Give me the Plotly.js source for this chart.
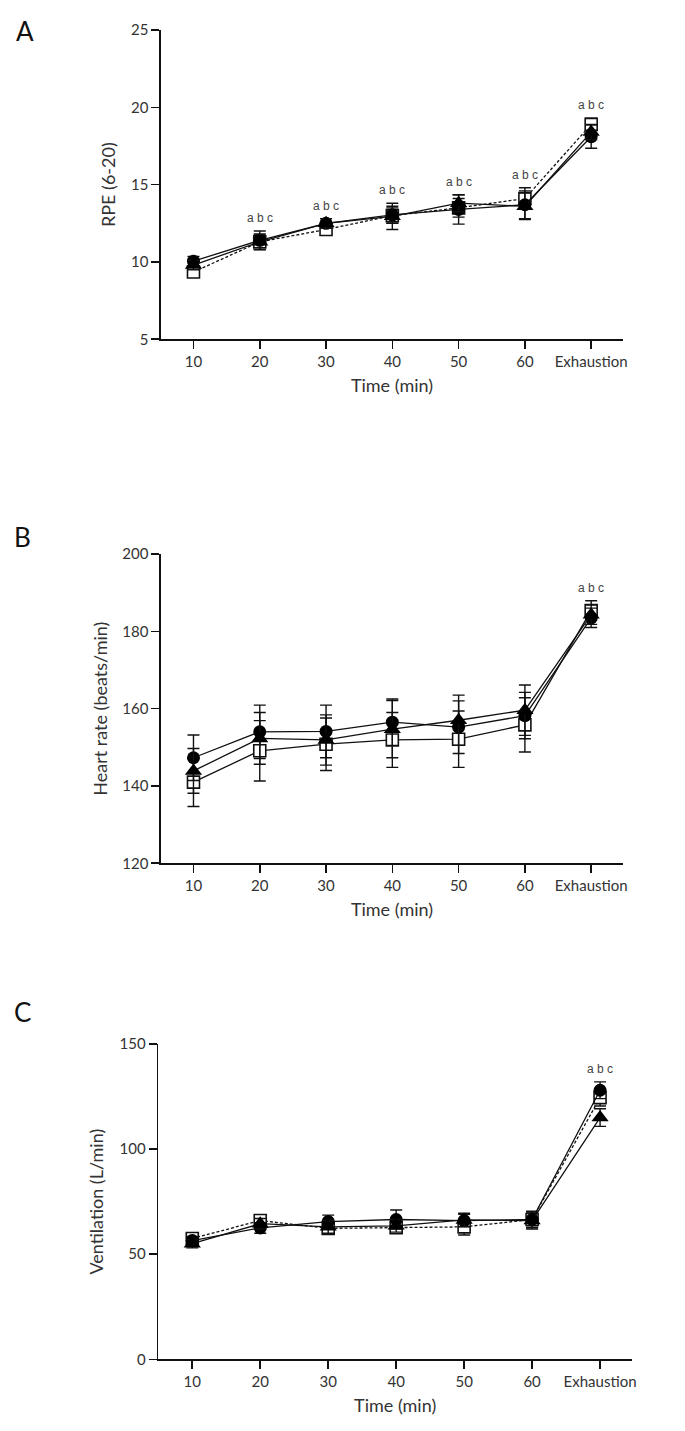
<!DOCTYPE html>
<html>
<head>
<meta charset="utf-8">
<script src="https://cdn.plot.ly/plotly-3.0.1.min.js"></script>
<style>
html,body{margin:0;padding:0;background:#fff;}
#chart{width:685px;height:1431px;}
</style>
</head>
<body>
<div id="chart"></div>
<script>
// ---------- DATA ----------
const timeLabels = ['10', '20', '30', '40', '50', '60', 'Exhaustion'];

// Panel A: RPE (6-20)
const rpeSquare      = [9.35, 11.3, 12.1, 13.0, 13.5, 14.1, 18.9];
const rpeSquareErr   = [0.3, 0.5, 0.35, 0.5, 0.6, 0.7, 0.4];
const rpeCircle      = [10.05, 11.4, 12.5, 13.05, 13.4, 13.7, 18.1];
const rpeCircleErr   = [0.3, 0.6, 0.3, 0.55, 0.95, 0.9, 0.75];
const rpeTriangle    = [9.8, 11.3, 12.5, 12.95, 13.8, 13.6, 18.4];
const rpeTriangleErr = [0.3, 0.5, 0.3, 0.85, 0.55, 0.85, 0.5];
const rpeSig = ['20', '30', '40', '50', '60', 'Exhaustion'];

// Panel B: Heart rate (beats/min)
const hrSquare      = [141.0, 149.1, 150.8, 151.9, 152.1, 155.8, 185.4];
const hrSquareErr   = [6.3, 7.8, 6.8, 7.1, 7.3, 7.0, 2.5];
const hrCircle      = [147.3, 154.0, 154.1, 156.5, 155.2, 158.2, 183.5];
const hrCircleErr   = [5.9, 6.9, 6.8, 6.0, 6.8, 6.0, 2.5];
const hrTriangle    = [143.9, 152.3, 151.9, 154.7, 157.0, 159.6, 184.3];
const hrTriangleErr = [5.8, 6.7, 6.5, 7.4, 6.5, 6.5, 2.5];
const hrSig = ['Exhaustion'];

// Panel C: Ventilation (L/min)
const veSquare      = [57.5, 66.0, 62.3, 62.6, 63.0, 66.5, 124.5];
const veSquareErr   = [2.0, 2.5, 2.5, 2.5, 3.9, 4.0, 4.0];
const veCircle      = [56.5, 62.5, 65.5, 66.5, 66.0, 66.5, 128.0];
const veCircleErr   = [2.0, 2.5, 3.1, 4.5, 3.0, 3.7, 4.0];
const veTriangle    = [55.0, 64.5, 63.0, 63.5, 66.3, 66.0, 115.0];
const veTriangleErr = [2.0, 2.5, 3.0, 3.0, 3.2, 4.0, 4.2];
const veSig = ['Exhaustion'];

// ---------- LAYOUT HELPERS ----------
const W = 685, H = 1431;
const fx = p => p / W;
const fy = p => 1 - p / H;
const INK = '#111111';
const TXT = '#333333';
const FONT = 'Lato, "Open Sans", sans-serif';

const panels = [
  {
    key: '', letter: 'A', letterPos: [25, 31],
    x: [161, 623], y: [30, 339.3], yrange: [5, 25], ytick: [5, 10, 15, 20, 25],
    xr: [-0.49, 6.48],
    ytitle: 'RPE (6-20)', ystandoff: 10,
    sq: rpeSquare, sqE: rpeSquareErr, ci: rpeCircle, ciE: rpeCircleErr, tr: rpeTriangle, trE: rpeTriangleErr,
    sig: rpeSig, sqDash: '3px,2px'
  },
  {
    key: '2', letter: 'B', letterPos: [22, 537],
    x: [161, 623], y: [554, 863.3], yrange: [120, 200], ytick: [120, 140, 160, 180, 200],
    xr: [-0.49, 6.48],
    ytitle: 'Heart rate (beats/min)', ystandoff: 10,
    sq: hrSquare, sqE: hrSquareErr, ci: hrCircle, ciE: hrCircleErr, tr: hrTriangle, trE: hrTriangleErr,
    sig: hrSig, sqDash: 'solid'
  },
  {
    key: '3', letter: 'C', letterPos: [22, 1012],
    x: [158.3, 632], y: [1044, 1359.3], yrange: [0, 150], ytick: [0, 50, 100, 150],
    xr: [-0.5, 6.47],
    ytitle: 'Ventilation (L/min)', ystandoff: 11,
    sq: veSquare, sqE: veSquareErr, ci: veCircle, ciE: veCircleErr, tr: veTriangle, trE: veTriangleErr,
    sig: veSig, sqDash: '3px,2px'
  }
];

function errBar(arr) {
  return {type: 'data', array: arr, visible: true, color: INK, thickness: 1.4, width: 6};
}

const traces = [];
const annotations = [];
const layout = {
  width: W, height: H,
  margin: {l: 0, r: 0, t: 0, b: 0},
  paper_bgcolor: '#fff', plot_bgcolor: '#fff',
  showlegend: false,
  font: {family: FONT, color: TXT}
};

panels.forEach(p => {
  const xa = 'x' + p.key, ya = 'y' + p.key;
  // open square (drawn first)
  traces.push({
    type: 'scatter', mode: 'lines+markers', x: timeLabels, y: p.sq, xaxis: xa, yaxis: ya,
    line: {color: INK, width: 1.3, dash: p.sqDash},
    marker: {symbol: 'square', size: 12, color: '#ffffff', line: {color: INK, width: 1.6}},
    error_y: errBar(p.sqE), cliponaxis: false
  });
  // filled circle
  traces.push({
    type: 'scatter', mode: 'lines+markers', x: timeLabels, y: p.ci, xaxis: xa, yaxis: ya,
    line: {color: INK, width: 1.3},
    marker: {symbol: 'circle', size: 13, color: '#000000'},
    error_y: errBar(p.ciE), cliponaxis: false
  });
  // filled triangle
  traces.push({
    type: 'scatter', mode: 'lines+markers', x: timeLabels, y: p.tr, xaxis: xa, yaxis: ya,
    line: {color: INK, width: 1.3},
    marker: {symbol: 'triangle-up', size: 15, color: '#000000'},
    error_y: errBar(p.trE), cliponaxis: false
  });

  layout['xaxis' + p.key] = {
    domain: [fx(p.x[0]), fx(p.x[1])], anchor: ya,
    type: 'category', range: p.xr,
    showline: true, linecolor: INK, linewidth: 1.6, mirror: false,
    ticks: 'outside', ticklen: 8, tickwidth: 1.6, tickcolor: INK,
    showgrid: false, zeroline: false, automargin: false, fixedrange: true,
    tickfont: {family: FONT, size: 15, color: TXT},
    title: {text: 'Time (min)', font: {family: FONT, size: 18, color: TXT}, standoff: 10}
  };
  layout['yaxis' + p.key] = {
    domain: [fy(p.y[1]), fy(p.y[0])], anchor: xa,
    range: p.yrange, tickvals: p.ytick,
    showline: true, linecolor: INK, linewidth: 1.6,
    ticks: 'outside', ticklen: 8, tickwidth: 1.6, tickcolor: INK,
    showgrid: false, zeroline: false, automargin: false, fixedrange: true,
    tickfont: {family: FONT, size: 15, color: TXT},
    title: {text: p.ytitle, font: {family: FONT, size: 18, color: TXT}, standoff: p.ystandoff}
  };

  // significance labels above the highest error bar (x given as category index)
  p.sig.forEach(lbl => {
    const i = timeLabels.indexOf(lbl);
    const top = Math.max(p.sq[i] + p.sqE[i], p.ci[i] + p.ciE[i], p.tr[i] + p.trE[i]);
    annotations.push({
      xref: xa, yref: ya, x: i, y: top, yshift: 13, showarrow: false,
      text: 'a b c', font: {family: '"Liberation Sans", Arial, sans-serif', size: 12, color: '#444'}
    });
  });

  // panel letter
  annotations.push({
    xref: 'paper', yref: 'paper', x: fx(p.letterPos[0]), y: fy(p.letterPos[1]),
    xanchor: 'center', yanchor: 'middle', showarrow: false,
    text: p.letter, font: {family: FONT, size: 26, color: '#111'}
  });
});

layout.annotations = annotations;

Plotly.newPlot('chart', traces, layout, {staticPlot: true, displayModeBar: false});
</script>
</body>
</html>
